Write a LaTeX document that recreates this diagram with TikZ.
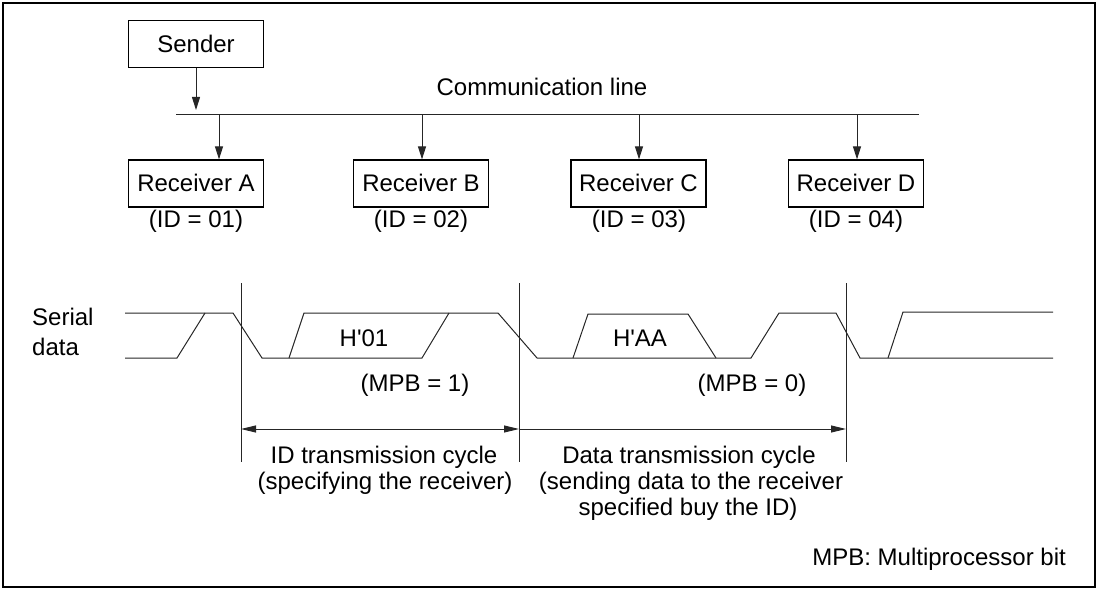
\documentclass[tikz,border=0pt]{standalone}
\usepackage{fontspec}
\newfontfamily\arialf{Liberation Sans}
\usetikzlibrary{arrows.meta}
\begin{document}
\begin{tikzpicture}[x=1pt,y=-1pt,
  font=\arialf\fontsize{24pt}{26pt}\selectfont,
  wire/.style={line width=1pt, draw=black!85},
  box/.style={draw, line width=1.2pt, minimum width=135pt, minimum height=47pt,
    inner sep=0pt, text height=17pt, text depth=0pt},
  arr/.style={wire, -{Triangle[length=13pt,width=8pt]}},
  dimr/.style={wire, -{Triangle[length=15pt,width=7pt]}},
  dimlr/.style={wire, {Triangle[length=15pt,width=7pt]}-{Triangle[length=15pt,width=7pt]}},
  lbl/.style={anchor=base, inner sep=0pt}]
\useasboundingbox (0,0) rectangle (1100,596);
\draw[line width=1.5pt] (3,3) rectangle (1095,587);

% sender and receivers
\node[box] (sender) at (196,44) {Sender};
\node[box] (rA) at (196,183.5) {Receiver A};
\node[box] (rB) at (421,183.5) {Receiver B};
\node[box] (rC) at (638.5,183.5) {Receiver C};
\node[box] (rD) at (856,183.5) {Receiver D};

\node[lbl] (idA) at (196,227) {(ID = 01)};
\node[lbl] (idB) at (421,227) {(ID = 02)};
\node[lbl] (idC) at (639,227) {(ID = 03)};
\node[lbl] (idD) at (856,227) {(ID = 04)};

% communication line
\coordinate (L0) at (176,115);
\coordinate (L1) at (919,115);
\draw[wire] (L0) -- (L1);
\node[lbl] (cl) at (542,95.5) {Communication line};

\coordinate (sT) at (196,110);
\draw[arr] (sender.south) -- (sT);
\coordinate (tA) at (219,115);
\coordinate (tB) at (422,115);
\coordinate (tC) at (639,115);
\coordinate (tD) at (857,115);
\draw[arr] (tA) -- (tA |- rA.north);
\draw[arr] (tB) -- (tB |- rB.north);
\draw[arr] (tC) -- (tC |- rC.north);
\draw[arr] (tD) -- (tD |- rD.north);

% serial data label
\node[anchor=base west, inner sep=0pt] (s1) at (32,325) {Serial};
\node[anchor=base west, inner sep=0pt] (s2) at (32,355) {data};

% waveform
\draw[wire] (125,313) -- (233,313) -- (262,358) -- (422,358) -- (449,313);
\draw[wire] (125,358) -- (177,358) -- (205,313);
\draw[wire] (289,358) -- (304,313) -- (498,313) -- (537,358) -- (751,358) -- (779,313) -- (836,313) -- (860,358) -- (1053,358);
\draw[wire] (573,358) -- (588,314) -- (688,314) -- (716,358);
\draw[wire] (888,358) -- (903,312) -- (1053,312);

\node[lbl] (h01) at (364,346.5) {H'01};
\node[lbl] (haa) at (640,346.5) {H'AA};
\node[lbl] (m1) at (415,391) {(MPB = 1)};
\node[lbl] (m0) at (752,391) {(MPB = 0)};

% cycle boundaries
\coordinate (v1t) at (241,283); \coordinate (v1b) at (241,462);
\coordinate (v2t) at (519,283); \coordinate (v2b) at (519,462);
\coordinate (v3t) at (846,283); \coordinate (v3b) at (846,462);
\draw[wire] (v1t) -- (v1b);
\draw[wire] (v2t) -- (v2b);
\draw[wire] (v3t) -- (v3b);

\coordinate (a1) at (241,429);
\coordinate (a2) at (519,429);
\coordinate (a3) at (846,429);
\draw[dimlr] (a1) -- (a2);
\draw[dimr] (a2) -- (a3);

\node[lbl] (id1) at (384,463) {ID transmission cycle};
\node[lbl] (id2) at (385,489.5) {(specifying the receiver)};
\node[lbl] (d1) at (689,463) {Data transmission cycle};
\node[lbl] (d2) at (691,489.5) {(sending data to the receiver};
\node[lbl] (d3) at (688,515) {specified buy the ID)};

\node[anchor=base east, inner sep=0pt] (note) at (1066,565) {MPB: Multiprocessor bit};
\end{tikzpicture}
\end{document}
